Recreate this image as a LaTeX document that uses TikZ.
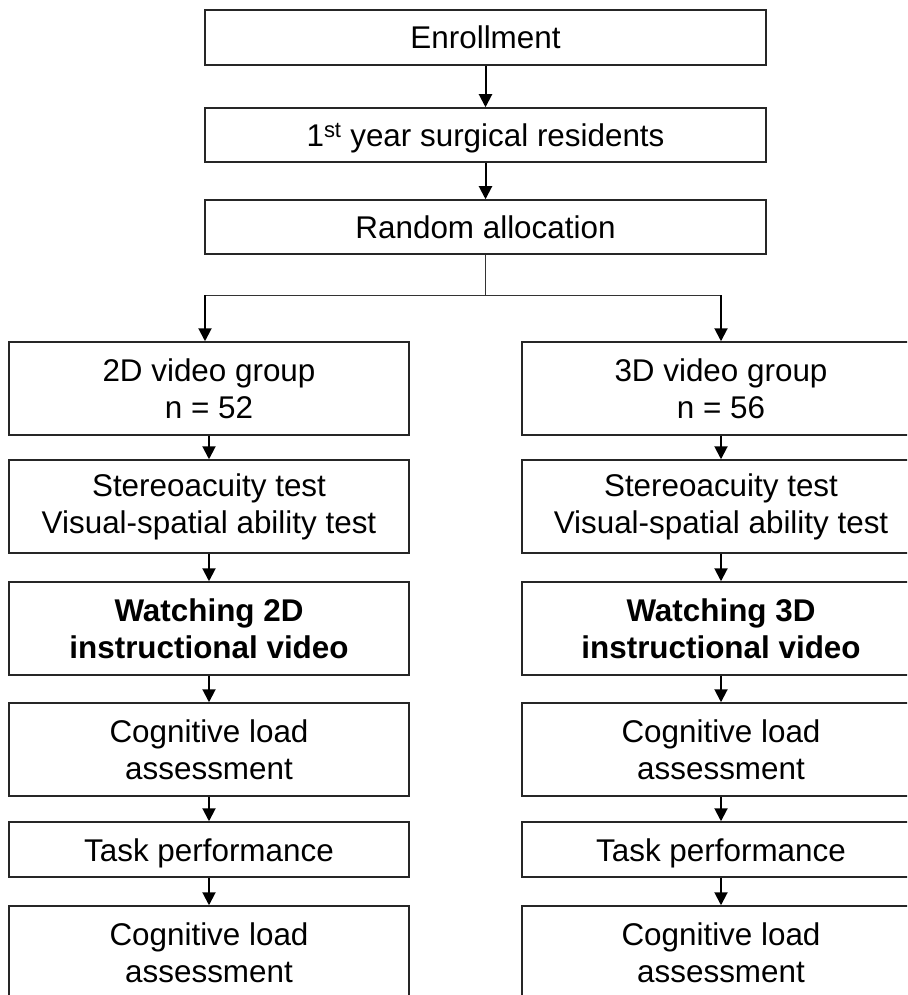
\documentclass[tikz,border=0pt]{standalone}
\usepackage{fontspec}
\setmainfont{Liberation Sans}
\usetikzlibrary{arrows.meta}
\begin{document}
\begin{tikzpicture}[x=1pt,y=-1pt,
  box/.style={draw=black!85,line width=1.5pt,rectangle,inner sep=0pt,align=center,
    font=\fontsize{31.4}{37}\selectfont},
  onebox/.style={box,text height=23pt,text depth=0pt},
  arr/.style={draw=black,line width=2pt,-{Triangle[width=13pt,length=13pt]}},
  thin/.style={draw=black!80,line width=1pt}]
\useasboundingbox (0,0) rectangle (907,995);
\begin{scope}
\clip (0,0) rectangle (907,995);
% top column
\node[onebox,minimum width=561pt,minimum height=55pt] (enr) at (485.5,37.5) {Enrollment};
\node[onebox,minimum width=561pt,minimum height=54pt] (res) at (485.5,135) {1\textsuperscript{st} year surgical residents};
\node[onebox,minimum width=561pt,minimum height=54pt] (ran) at (485.5,227) {Random allocation};
% left column
\node[box,minimum width=400pt,minimum height=93pt] (g2) at (209,388.5) {2D video group\\n = 52};
\node[box,minimum width=400pt,minimum height=93pt] (s2) at (209,506.5) {Stereoacuity test\\Visual-spatial ability test};
\node[box,minimum width=400pt,minimum height=93pt,font=\fontsize{31.4}{37}\selectfont\bfseries] (w2) at (209,628.5) {Watching 2D\\instructional video};
\node[box,minimum width=400pt,minimum height=93pt] (c2a) at (209,749.5) {Cognitive load\\assessment};
\node[onebox,minimum width=400pt,minimum height=55pt] (t2) at (209,849.5) {Task performance};
\node[box,minimum width=400pt,minimum height=93pt] (c2b) at (209,952.5) {Cognitive load\\assessment};
% right column
\node[box,minimum width=398pt,minimum height=93pt] (g3) at (721,388.5) {3D video group\\n = 56};
\node[box,minimum width=398pt,minimum height=93pt] (s3) at (721,506.5) {Stereoacuity test\\Visual-spatial ability test};
\node[box,minimum width=398pt,minimum height=93pt,font=\fontsize{31.4}{37}\selectfont\bfseries] (w3) at (721,628.5) {Watching 3D\\instructional video};
\node[box,minimum width=398pt,minimum height=93pt] (c3a) at (721,749.5) {Cognitive load\\assessment};
\node[onebox,minimum width=398pt,minimum height=55pt] (t3) at (721,849.5) {Task performance};
\node[box,minimum width=398pt,minimum height=93pt] (c3b) at (721,952.5) {Cognitive load\\assessment};
% split
\coordinate (mid) at (485.5,295);
\coordinate (sl) at (205,295);
\coordinate (sr) at (721,295);
\draw[arr] (enr) -- (res);
\draw[arr] (res) -- (ran);
\draw[thin] (ran) -- (mid);
\draw[thin] (sl) -- (sr);
\draw[arr] (sl) -- (sl |- g2.north);
\draw[arr] (sr) -- (sr |- g3.north);
\foreach \a/\b in {g2/s2,s2/w2,w2/c2a,c2a/t2,t2/c2b,g3/s3,s3/w3,w3/c3a,c3a/t3,t3/c3b}
  \draw[arr] (\a) -- (\b);
\end{scope}
\end{tikzpicture}
\end{document}
